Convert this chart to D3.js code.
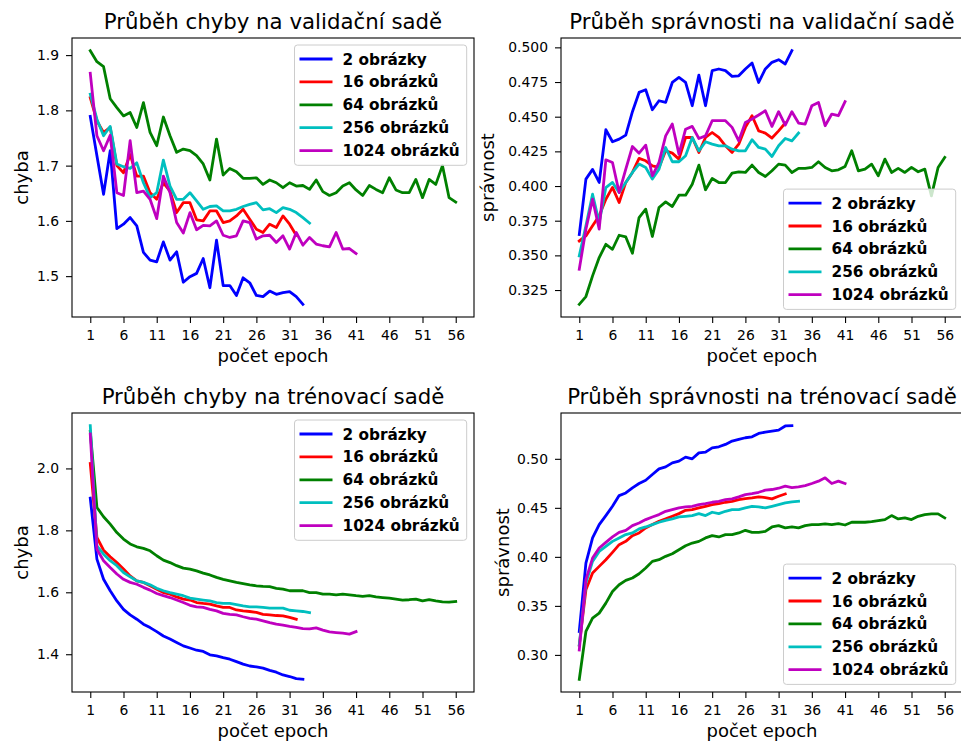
<!DOCTYPE html>
<html>
<head>
<meta charset="utf-8">
<script src="https://cdn.jsdelivr.net/npm/d3@7"></script>
<style>
  body { margin: 0; background: #ffffff; }
  svg text { font-family: "DejaVu Sans", sans-serif; fill: #000; }
</style>
</head>
<body>
<svg id="chart" width="961" height="744"></svg>
<script>
// ---- categories and ticks ----
const seriesLabels = ["2 obrázky", "16 obrázků", "64 obrázků", "256 obrázků", "1024 obrázků"];
const seriesColors = ["#0000ff", "#ff0000", "#008000", "#00bfbf", "#bf00bf"];
const epochTicks = [1, 6, 11, 16, 21, 26, 31, 36, 41, 46, 51, 56];
const valLossTicks = [1.5, 1.6, 1.7, 1.8, 1.9];
const valAccTicks = [0.325, 0.35, 0.375, 0.4, 0.425, 0.45, 0.475, 0.5];
const trainLossTicks = [1.4, 1.6, 1.8, 2.0];
const trainAccTicks = [0.30, 0.35, 0.40, 0.45, 0.50];

// ---- validation loss per epoch ----
const valLoss2 = [1.789, 1.718, 1.648, 1.727, 1.586, 1.594, 1.606, 1.591, 1.543, 1.529, 1.526, 1.562, 1.529, 1.544, 1.489, 1.499, 1.505, 1.532, 1.479, 1.565, 1.483, 1.483, 1.465, 1.497, 1.488, 1.465, 1.463, 1.473, 1.467, 1.470, 1.472, 1.463, 1.449];
const valLoss16 = [1.823, 1.781, 1.760, 1.769, 1.700, 1.687, 1.720, 1.681, 1.681, 1.651, 1.639, 1.669, 1.654, 1.615, 1.633, 1.633, 1.602, 1.600, 1.618, 1.618, 1.597, 1.600, 1.609, 1.621, 1.603, 1.585, 1.579, 1.594, 1.588, 1.609, 1.594, 1.574];
const valLoss64 = [1.908, 1.888, 1.879, 1.821, 1.805, 1.790, 1.796, 1.769, 1.814, 1.760, 1.736, 1.788, 1.754, 1.724, 1.730, 1.727, 1.718, 1.703, 1.674, 1.748, 1.683, 1.695, 1.689, 1.677, 1.677, 1.678, 1.666, 1.674, 1.669, 1.660, 1.669, 1.663, 1.664, 1.657, 1.674, 1.653, 1.646, 1.651, 1.663, 1.669, 1.656, 1.646, 1.664, 1.657, 1.651, 1.678, 1.656, 1.651, 1.651, 1.675, 1.642, 1.675, 1.666, 1.700, 1.642, 1.634];
const valLoss256 = [1.829, 1.784, 1.754, 1.771, 1.703, 1.698, 1.695, 1.705, 1.669, 1.642, 1.651, 1.710, 1.663, 1.639, 1.639, 1.651, 1.636, 1.621, 1.626, 1.627, 1.618, 1.618, 1.621, 1.626, 1.630, 1.633, 1.620, 1.622, 1.615, 1.624, 1.621, 1.615, 1.606, 1.596];
const valLoss1024 = [1.867, 1.754, 1.727, 1.755, 1.651, 1.646, 1.745, 1.651, 1.654, 1.639, 1.604, 1.681, 1.651, 1.597, 1.578, 1.615, 1.584, 1.592, 1.591, 1.600, 1.574, 1.570, 1.573, 1.600, 1.597, 1.567, 1.573, 1.574, 1.561, 1.573, 1.549, 1.579, 1.556, 1.570, 1.558, 1.555, 1.553, 1.579, 1.549, 1.550, 1.541];

// ---- validation accuracy per epoch ----
const valAcc2 = [0.365, 0.405, 0.412, 0.4026, 0.4406, 0.4319, 0.4338, 0.4367, 0.4536, 0.4675, 0.4694, 0.455, 0.4615, 0.4603, 0.4747, 0.4783, 0.4747, 0.4579, 0.48, 0.4579, 0.4832, 0.4844, 0.4832, 0.4791, 0.4795, 0.4844, 0.4887, 0.4747, 0.4844, 0.4892, 0.4911, 0.488, 0.4976];
const valAcc16 = [0.3604, 0.364, 0.3713, 0.3785, 0.3905, 0.399, 0.3881, 0.4026, 0.4098, 0.4199, 0.4182, 0.4146, 0.4134, 0.4254, 0.4237, 0.4194, 0.435, 0.435, 0.4242, 0.435, 0.4386, 0.435, 0.429, 0.4242, 0.4302, 0.4423, 0.4507, 0.4398, 0.4382, 0.4346, 0.4398, 0.4454];
const valAcc64 = [0.3147, 0.3203, 0.3352, 0.3484, 0.358, 0.3544, 0.3645, 0.3633, 0.3515, 0.3773, 0.3833, 0.3636, 0.3845, 0.3886, 0.3852, 0.3934, 0.3934, 0.4013, 0.4151, 0.3973, 0.4054, 0.4025, 0.4025, 0.4093, 0.4102, 0.4098, 0.4151, 0.4098, 0.4069, 0.411, 0.4158, 0.4151, 0.4098, 0.4127, 0.4127, 0.4134, 0.4175, 0.4134, 0.411, 0.4117, 0.4141, 0.4254, 0.411, 0.4122, 0.4158, 0.4074, 0.4194, 0.4098, 0.4127, 0.4098, 0.4134, 0.4103, 0.4122, 0.3929, 0.4134, 0.4206];
const valAcc256 = [0.3496, 0.3713, 0.3941, 0.3737, 0.3989, 0.4026, 0.3953, 0.4026, 0.4098, 0.4158, 0.4134, 0.405, 0.4122, 0.4278, 0.4175, 0.4175, 0.4218, 0.435, 0.4254, 0.4319, 0.4302, 0.429, 0.429, 0.4266, 0.4254, 0.4254, 0.4334, 0.4278, 0.4266, 0.4213, 0.429, 0.4343, 0.4326, 0.4382];
const valAcc1024 = [0.34, 0.3689, 0.3905, 0.3689, 0.4189, 0.417, 0.3953, 0.4122, 0.4285, 0.4237, 0.4295, 0.4074, 0.417, 0.4362, 0.4447, 0.423, 0.441, 0.443, 0.4343, 0.4362, 0.4471, 0.4471, 0.4471, 0.4423, 0.4326, 0.4459, 0.4483, 0.4512, 0.4543, 0.443, 0.4536, 0.4439, 0.4536, 0.4454, 0.4447, 0.4579, 0.4603, 0.4435, 0.4519, 0.4507, 0.4608];

// ---- training loss per epoch ----
const trainLoss2 = [1.904, 1.707, 1.642, 1.605, 1.572, 1.545, 1.527, 1.513, 1.497, 1.486, 1.473, 1.459, 1.449, 1.438, 1.427, 1.420, 1.413, 1.409, 1.398, 1.395, 1.389, 1.384, 1.376, 1.368, 1.362, 1.359, 1.355, 1.348, 1.342, 1.333, 1.328, 1.321, 1.319];
const trainLoss16 = [2.016, 1.777, 1.736, 1.715, 1.696, 1.675, 1.653, 1.637, 1.632, 1.621, 1.610, 1.599, 1.594, 1.585, 1.578, 1.575, 1.567, 1.564, 1.562, 1.556, 1.551, 1.551, 1.543, 1.540, 1.538, 1.535, 1.529, 1.527, 1.525, 1.524, 1.519, 1.513];
const trainLoss64 = [2.12, 1.874, 1.844, 1.820, 1.793, 1.772, 1.756, 1.747, 1.742, 1.734, 1.718, 1.704, 1.696, 1.686, 1.678, 1.675, 1.669, 1.662, 1.656, 1.648, 1.642, 1.637, 1.632, 1.628, 1.624, 1.621, 1.619, 1.618, 1.613, 1.610, 1.605, 1.605, 1.605, 1.599, 1.599, 1.594, 1.594, 1.592, 1.594, 1.592, 1.589, 1.587, 1.589, 1.585, 1.583, 1.581, 1.578, 1.575, 1.576, 1.578, 1.572, 1.576, 1.572, 1.569, 1.568, 1.570];
const trainLoss256 = [2.138, 1.750, 1.723, 1.702, 1.686, 1.664, 1.650, 1.637, 1.632, 1.624, 1.613, 1.605, 1.599, 1.594, 1.589, 1.581, 1.578, 1.575, 1.572, 1.567, 1.564, 1.564, 1.560, 1.556, 1.553, 1.553, 1.551, 1.549, 1.549, 1.549, 1.542, 1.540, 1.538, 1.534];
const trainLoss1024 = [2.111, 1.739, 1.702, 1.680, 1.659, 1.642, 1.632, 1.626, 1.616, 1.607, 1.596, 1.589, 1.583, 1.575, 1.567, 1.558, 1.553, 1.551, 1.545, 1.540, 1.532, 1.529, 1.527, 1.521, 1.516, 1.513, 1.508, 1.502, 1.497, 1.494, 1.490, 1.487, 1.483, 1.482, 1.485, 1.478, 1.472, 1.470, 1.468, 1.465, 1.473];

// ---- training accuracy per epoch ----
const trainAcc2 = [0.3239, 0.3937, 0.4193, 0.4329, 0.4421, 0.4516, 0.4625, 0.4652, 0.4704, 0.4748, 0.4782, 0.484, 0.4898, 0.4918, 0.4959, 0.4976, 0.5017, 0.50, 0.5061, 0.5068, 0.5112, 0.5123, 0.5147, 0.5181, 0.5198, 0.5215, 0.5225, 0.5259, 0.5273, 0.5283, 0.5293, 0.5335, 0.5338];
const trainAcc16 = [0.31, 0.3664, 0.3835, 0.3903, 0.3971, 0.4046, 0.4124, 0.4158, 0.4216, 0.4244, 0.4295, 0.4329, 0.4363, 0.4387, 0.4414, 0.4441, 0.4475, 0.4482, 0.4499, 0.4516, 0.4533, 0.4543, 0.4557, 0.4567, 0.4584, 0.4595, 0.4601, 0.4612, 0.4605, 0.4591, 0.4618, 0.4642];
const trainAcc64 = [0.2751, 0.3239, 0.3375, 0.3426, 0.3528, 0.3647, 0.3716, 0.376, 0.3784, 0.3828, 0.3886, 0.3954, 0.3971, 0.4005, 0.4032, 0.4073, 0.4114, 0.4141, 0.4158, 0.4193, 0.4216, 0.4203, 0.4227, 0.4227, 0.4244, 0.4271, 0.425, 0.425, 0.426, 0.4305, 0.4319, 0.4295, 0.4305, 0.4295, 0.4319, 0.4329, 0.4329, 0.4336, 0.4329, 0.4339, 0.4325, 0.4353, 0.4353, 0.4353, 0.4359, 0.437, 0.438, 0.4421, 0.4387, 0.4397, 0.438, 0.4414, 0.4431, 0.4438, 0.4438, 0.4397];
const trainAcc256 = [0.31, 0.3733, 0.3954, 0.4056, 0.4107, 0.4158, 0.4193, 0.4227, 0.4244, 0.4285, 0.4305, 0.4329, 0.4353, 0.4373, 0.4387, 0.4407, 0.4414, 0.4421, 0.4441, 0.4421, 0.4455, 0.4441, 0.4465, 0.4482, 0.4482, 0.4499, 0.4516, 0.4509, 0.4499, 0.4516, 0.4533, 0.455, 0.456, 0.4567];
const trainAcc1024 = [0.3051, 0.3767, 0.3988, 0.409, 0.4148, 0.4203, 0.425, 0.4271, 0.4319, 0.4346, 0.438, 0.4407, 0.4431, 0.4465, 0.4482, 0.4499, 0.4509, 0.4516, 0.4533, 0.4543, 0.4557, 0.4567, 0.4584, 0.4591, 0.4612, 0.4635, 0.4646, 0.4659, 0.468, 0.4687, 0.47, 0.4721, 0.4707, 0.4714, 0.4727, 0.4748, 0.4772, 0.4806, 0.4748, 0.4772, 0.4748];

// ---- panel layout ----
const panels = [
  { title: "Průběh chyby na validační sadě", ylabel: "chyba",
    series: [valLoss2, valLoss16, valLoss64, valLoss256, valLoss1024],
    yTicks: valLossTicks, fmt: ".1f", legendAt: "top",
    left: 72, top: 38, width: 402, height: 279, ylabelX: 27.5 },
  { title: "Průběh správnosti na validační sadě", ylabel: "správnost",
    series: [valAcc2, valAcc16, valAcc64, valAcc256, valAcc1024],
    yTicks: valAccTicks, fmt: ".3f", legendAt: "bottom",
    left: 561, top: 38, width: 402, height: 279, ylabelX: 494 },
  { title: "Průběh chyby na trénovací sadě", ylabel: "chyba",
    series: [trainLoss2, trainLoss16, trainLoss64, trainLoss256, trainLoss1024],
    yTicks: trainLossTicks, fmt: ".1f", legendAt: "top",
    left: 72, top: 413, width: 402, height: 279, ylabelX: 27.5 },
  { title: "Průběh správnosti na trénovací sadě", ylabel: "správnost",
    series: [trainAcc2, trainAcc16, trainAcc64, trainAcc256, trainAcc1024],
    yTicks: trainAccTicks, fmt: ".2f", legendAt: "bottom",
    left: 561, top: 413, width: 402, height: 279, ylabelX: 509 }
];

const svg = d3.select("#chart");
const LINE_W = 2.8;
const TICK_FONT = 13.9;
const LABEL_FONT = 18;
const TITLE_FONT = 21.3;
const LEGEND_FONT = 15.3;

panels.forEach(p => {
  const g = svg.append("g").attr("transform", `translate(${p.left},${p.top})`);

  // x: epochs with a 5% margin on each side
  const maxLen = d3.max(p.series, s => s.length);
  const xPad = (maxLen - 1) * 0.05;
  const x = d3.scaleLinear().domain([1 - xPad, maxLen + xPad]).range([0, p.width]);

  // y: data extent with a 5% margin
  const ext = d3.extent(p.series.flat());
  const yPad = (ext[1] - ext[0]) * 0.05;
  const y = d3.scaleLinear().domain([ext[0] - yPad, ext[1] + yPad]).range([p.height, 0]);

  // axes
  const xAxis = g.append("g").attr("transform", `translate(0,${p.height})`)
    .call(d3.axisBottom(x).tickValues(epochTicks).tickFormat(d3.format("d")).tickSize(6).tickPadding(7));
  const yAxis = g.append("g")
    .call(d3.axisLeft(y).tickValues(p.yTicks).tickFormat(d3.format(p.fmt)).tickSize(6).tickPadding(7));
  [xAxis, yAxis].forEach(a => {
    a.select(".domain").remove();
    a.attr("font-family", null).attr("font-size", null);
    a.selectAll(".tick line").attr("stroke", "#000").attr("stroke-width", 1.1);
    a.selectAll(".tick text").style("font-size", TICK_FONT + "px").attr("fill", "#000");
  });

  // series lines
  const line = d3.line().x((d, i) => x(i + 1)).y(d => y(d));
  p.series.forEach((s, k) => {
    g.append("path").datum(s)
      .attr("d", line)
      .attr("fill", "none")
      .attr("stroke", seriesColors[k])
      .attr("stroke-width", LINE_W)
      .attr("stroke-linejoin", "round")
      .attr("stroke-linecap", "square");
  });

  // frame
  g.append("rect").attr("width", p.width).attr("height", p.height)
    .attr("fill", "none").attr("stroke", "#000").attr("stroke-width", 1.1);

  // title and axis labels
  g.append("text").attr("x", p.width / 2).attr("y", -9)
    .attr("text-anchor", "middle").style("font-size", TITLE_FONT + "px").text(p.title);
  g.append("text").attr("x", p.width / 2).attr("y", p.height + 45)
    .attr("text-anchor", "middle").style("font-size", LABEL_FONT + "px").text("počet epoch");
  svg.append("text")
    .attr("transform", `translate(${p.ylabelX},${p.top + p.height / 2}) rotate(-90)`)
    .attr("text-anchor", "middle").style("font-size", LABEL_FONT + "px").text(p.ylabel);

  // legend
  const rowGap = 22.9;
  const boxH = 14 + rowGap * 4 + 14.7;
  const leg = g.append("g");
  const box = leg.append("rect").attr("fill", "#fff").attr("fill-opacity", 0.8)
    .attr("stroke", "#cccccc").attr("stroke-width", 1).attr("rx", 3);
  let maxW = 0;
  seriesLabels.forEach((lab, k) => {
    const cy = 14 + k * rowGap;
    leg.append("line").attr("x1", 5).attr("x2", 38).attr("y1", cy).attr("y2", cy)
      .attr("stroke", seriesColors[k]).attr("stroke-width", LINE_W);
    const t = leg.append("text").attr("x", 48).attr("y", cy).attr("dy", "0.36em")
      .style("font-size", LEGEND_FONT + "px").style("font-weight", "bold").text(lab);
    maxW = Math.max(maxW, t.node().getComputedTextLength());
  });
  const boxW = 48 + maxW + 7;
  box.attr("width", boxW).attr("height", boxH);
  const lx = p.width - 7.3 - boxW;
  const ly = p.legendAt === "top" ? 7 : p.height - 7.6 - boxH;
  leg.attr("transform", `translate(${lx},${ly})`);
});
</script>
</body>
</html>
